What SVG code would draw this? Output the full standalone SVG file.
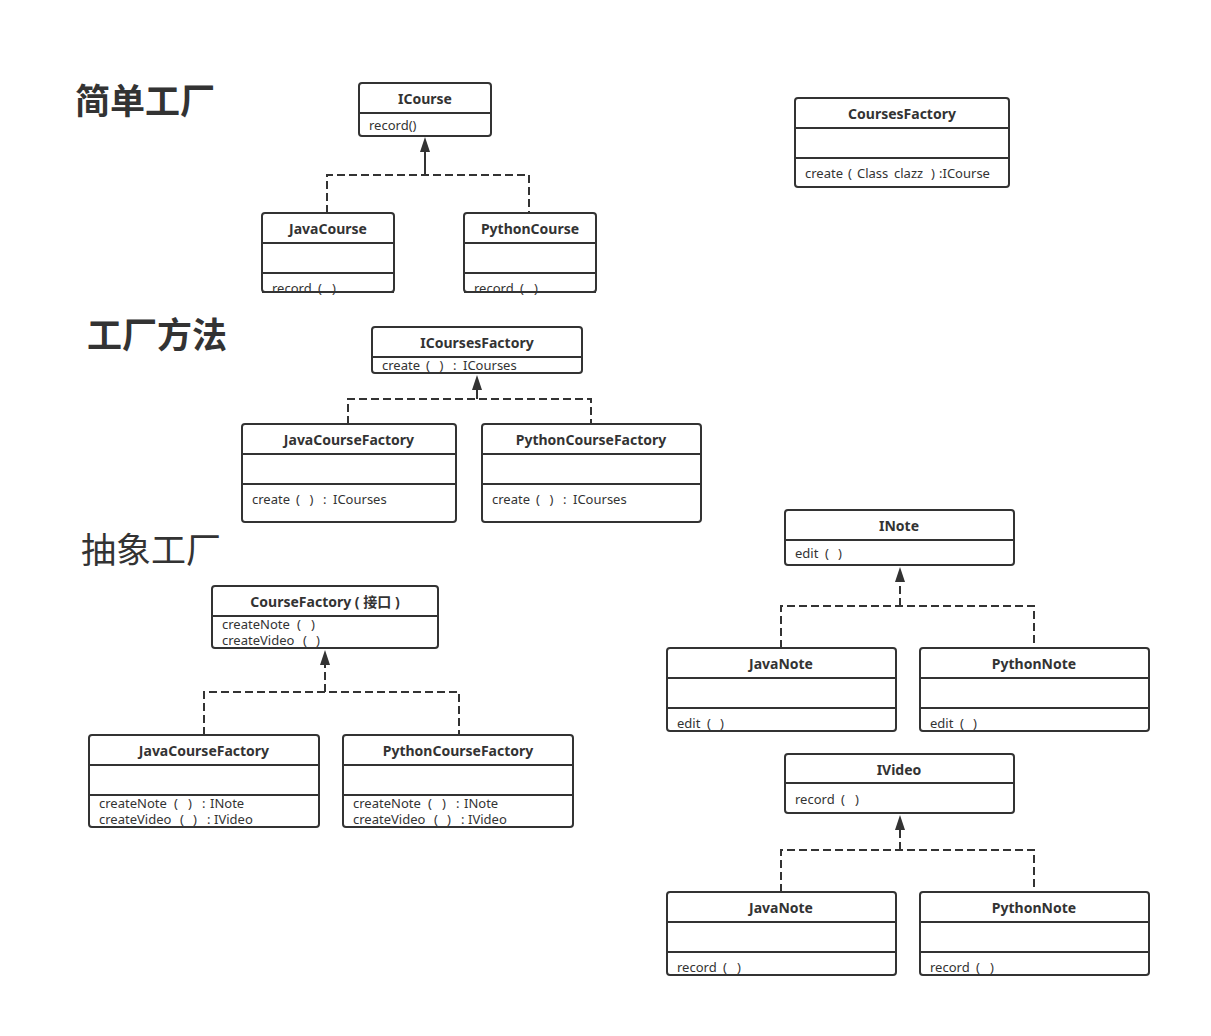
<svg xmlns="http://www.w3.org/2000/svg" width="1211" height="1036" viewBox="0 0 1211 1036">
<defs>
<style>
.box{fill:#fff;stroke:#333;stroke-width:2}
.div{stroke:#333;stroke-width:2}
.t{font-family:"Noto Sans","Noto Sans CJK SC",sans-serif;font-size:14px;font-weight:bold;fill:#333;text-anchor:middle;dominant-baseline:central}
.m{font-family:"Noto Sans","Noto Sans CJK SC",sans-serif;font-size:13px;fill:#333;dominant-baseline:central}
.h{font-family:"Noto Sans CJK SC",sans-serif;font-size:35px;fill:#333}
.dash{fill:none;stroke:#333;stroke-width:2;stroke-dasharray:8 4}
.solid{fill:none;stroke:#333;stroke-width:2}
</style>
</defs>
<rect width="1211" height="1036" fill="#fff"/>

<g id="headings">
<text class="h" x="75" y="114" font-weight="bold">简单工厂</text>
<text class="h" x="87" y="348" font-weight="bold">工厂方法</text>
<text class="h" x="81" y="563">抽象工厂</text>
</g>

<g id="connectors">
<path class="dash" d="M327,213 V175 H529 V213"/>
<path class="solid" d="M425,175 V152"/>
<path d="M425,137 L420,152 L430,152 Z" fill="#333"/>

<path class="dash" d="M348,424 V399 H591 V424"/>
<path class="solid" d="M477,399 V390"/>
<path d="M477,375 L472,390 L482,390 Z" fill="#333"/>

<path class="dash" d="M204,735 V692 H459 V735"/>
<path class="dash" d="M325,692 V665"/>
<path d="M325,650 L320,665 L330,665 Z" fill="#333"/>

<path class="dash" d="M781,648 V606 H1034 V648"/>
<path class="dash" d="M900,606 V582"/>
<path d="M900,567 L895,582 L905,582 Z" fill="#333"/>

<path class="dash" d="M781,892 V850 H1034 V892"/>
<path class="dash" d="M900,850 V830"/>
<path d="M900,815 L895,830 L905,830 Z" fill="#333"/>
</g>

<g id="ICourse">
<rect class="box" x="359" y="83" width="132" height="53" rx="3"/>
<line class="div" x1="359" y1="113" x2="491" y2="113"/>
<text class="t" x="425" y="98">ICourse</text>
<text class="m" x="369" y="125">record()</text>
</g>

<g id="JavaCourse">
<rect class="box" x="262" y="213" width="132" height="79" rx="3"/>
<line class="div" x1="262" y1="243" x2="394" y2="243"/>
<line class="div" x1="262" y1="273" x2="394" y2="273"/>
<text class="t" x="328" y="228">JavaCourse</text>
<text class="m" x="272" y="288">record <tspan x="318">(</tspan> <tspan x="332">)</tspan></text>
<line class="div" x1="262" y1="292" x2="394" y2="292"/>
</g>

<g id="PythonCourse">
<rect class="box" x="464" y="213" width="132" height="79" rx="3"/>
<line class="div" x1="464" y1="243" x2="596" y2="243"/>
<line class="div" x1="464" y1="273" x2="596" y2="273"/>
<text class="t" x="530" y="228">PythonCourse</text>
<text class="m" x="474" y="288">record <tspan x="520">(</tspan> <tspan x="534">)</tspan></text>
<line class="div" x1="464" y1="292" x2="596" y2="292"/>
</g>

<g id="CoursesFactory">
<rect class="box" x="795" y="98" width="214" height="89" rx="3"/>
<line class="div" x1="795" y1="128" x2="1009" y2="128"/>
<line class="div" x1="795" y1="158" x2="1009" y2="158"/>
<text class="t" x="902" y="113">CoursesFactory</text>
<text class="m" x="805" y="173">create <tspan x="848">(</tspan> <tspan x="857">Class</tspan> <tspan x="894">clazz</tspan> <tspan x="931">)</tspan> <tspan x="939">:ICourse</tspan></text>
</g>

<g id="ICoursesFactory">
<rect class="box" x="372" y="327" width="210" height="46" rx="3"/>
<line class="div" x1="372" y1="357" x2="582" y2="357"/>
<text class="t" x="477" y="342">ICoursesFactory</text>
<text class="m" x="382" y="365">create <tspan x="426">(</tspan> <tspan x="439.5">)</tspan> <tspan x="453">:</tspan> <tspan x="463">ICourses</tspan></text>
</g>

<g id="JavaCourseFactory1">
<rect class="box" x="242" y="424" width="214" height="98" rx="3"/>
<line class="div" x1="242" y1="454" x2="456" y2="454"/>
<line class="div" x1="242" y1="484" x2="456" y2="484"/>
<text class="t" x="349" y="439">JavaCourseFactory</text>
<text class="m" x="252" y="499">create <tspan x="296">(</tspan> <tspan x="309.5">)</tspan> <tspan x="323">:</tspan> <tspan x="333">ICourses</tspan></text>
</g>

<g id="PythonCourseFactory1">
<rect class="box" x="482" y="424" width="219" height="98" rx="3"/>
<line class="div" x1="482" y1="454" x2="701" y2="454"/>
<line class="div" x1="482" y1="484" x2="701" y2="484"/>
<text class="t" x="591" y="439">PythonCourseFactory</text>
<text class="m" x="492" y="499">create <tspan x="536">(</tspan> <tspan x="549.5">)</tspan> <tspan x="563">:</tspan> <tspan x="573">ICourses</tspan></text>
</g>

<g id="CourseFactory">
<rect class="box" x="212" y="586" width="226" height="62" rx="3"/>
<line class="div" x1="212" y1="616" x2="438" y2="616"/>
<text class="t" x="325" y="601">CourseFactory ( 接口 )</text>
<text class="m" x="222" y="624">createNote <tspan x="297">(</tspan> <tspan x="311">)</tspan></text>
<text class="m" x="222" y="640">createVideo <tspan x="303">(</tspan> <tspan x="316">)</tspan></text>
</g>

<g id="JavaCourseFactory2">
<rect class="box" x="89" y="735" width="230" height="92" rx="3"/>
<line class="div" x1="89" y1="765" x2="319" y2="765"/>
<line class="div" x1="89" y1="795" x2="319" y2="795"/>
<text class="t" x="204" y="750">JavaCourseFactory</text>
<text class="m" x="99" y="803">createNote <tspan x="174">(</tspan> <tspan x="188">)</tspan> <tspan x="202">:</tspan> <tspan x="210">INote</tspan></text>
<text class="m" x="99" y="819">createVideo <tspan x="180">(</tspan> <tspan x="193">)</tspan> <tspan x="207">:</tspan> <tspan x="214">IVideo</tspan></text>
</g>

<g id="PythonCourseFactory2">
<rect class="box" x="343" y="735" width="230" height="92" rx="3"/>
<line class="div" x1="343" y1="765" x2="573" y2="765"/>
<line class="div" x1="343" y1="795" x2="573" y2="795"/>
<text class="t" x="458" y="750">PythonCourseFactory</text>
<text class="m" x="353" y="803">createNote <tspan x="428">(</tspan> <tspan x="442">)</tspan> <tspan x="456">:</tspan> <tspan x="464">INote</tspan></text>
<text class="m" x="353" y="819">createVideo <tspan x="434">(</tspan> <tspan x="447">)</tspan> <tspan x="461">:</tspan> <tspan x="468">IVideo</tspan></text>
</g>

<g id="INote">
<rect class="box" x="785" y="510" width="229" height="55" rx="3"/>
<line class="div" x1="785" y1="540" x2="1014" y2="540"/>
<text class="t" x="899" y="525">INote</text>
<text class="m" x="795" y="553">edit <tspan x="825">(</tspan> <tspan x="838">)</tspan></text>
</g>

<g id="JavaNote1">
<rect class="box" x="667" y="648" width="229" height="83" rx="3"/>
<line class="div" x1="667" y1="678" x2="896" y2="678"/>
<line class="div" x1="667" y1="708" x2="896" y2="708"/>
<text class="t" x="781" y="663">JavaNote</text>
<text class="m" x="677" y="723">edit <tspan x="707">(</tspan> <tspan x="720">)</tspan></text>
</g>

<g id="PythonNote1">
<rect class="box" x="920" y="648" width="229" height="83" rx="3"/>
<line class="div" x1="920" y1="678" x2="1149" y2="678"/>
<line class="div" x1="920" y1="708" x2="1149" y2="708"/>
<text class="t" x="1034" y="663">PythonNote</text>
<text class="m" x="930" y="723">edit <tspan x="960">(</tspan> <tspan x="973">)</tspan></text>
</g>

<g id="IVideo">
<rect class="box" x="785" y="754" width="229" height="59" rx="3"/>
<line class="div" x1="785" y1="783" x2="1014" y2="783"/>
<text class="t" x="899" y="769">IVideo</text>
<text class="m" x="795" y="799">record <tspan x="841">(</tspan> <tspan x="855">)</tspan></text>
</g>

<g id="JavaNote2">
<rect class="box" x="667" y="892" width="229" height="83" rx="3"/>
<line class="div" x1="667" y1="922" x2="896" y2="922"/>
<line class="div" x1="667" y1="952" x2="896" y2="952"/>
<text class="t" x="781" y="907">JavaNote</text>
<text class="m" x="677" y="967">record <tspan x="723">(</tspan> <tspan x="737">)</tspan></text>
</g>

<g id="PythonNote2">
<rect class="box" x="920" y="892" width="229" height="83" rx="3"/>
<line class="div" x1="920" y1="922" x2="1149" y2="922"/>
<line class="div" x1="920" y1="952" x2="1149" y2="952"/>
<text class="t" x="1034" y="907">PythonNote</text>
<text class="m" x="930" y="967">record <tspan x="976">(</tspan> <tspan x="990">)</tspan></text>
</g>
</svg>
